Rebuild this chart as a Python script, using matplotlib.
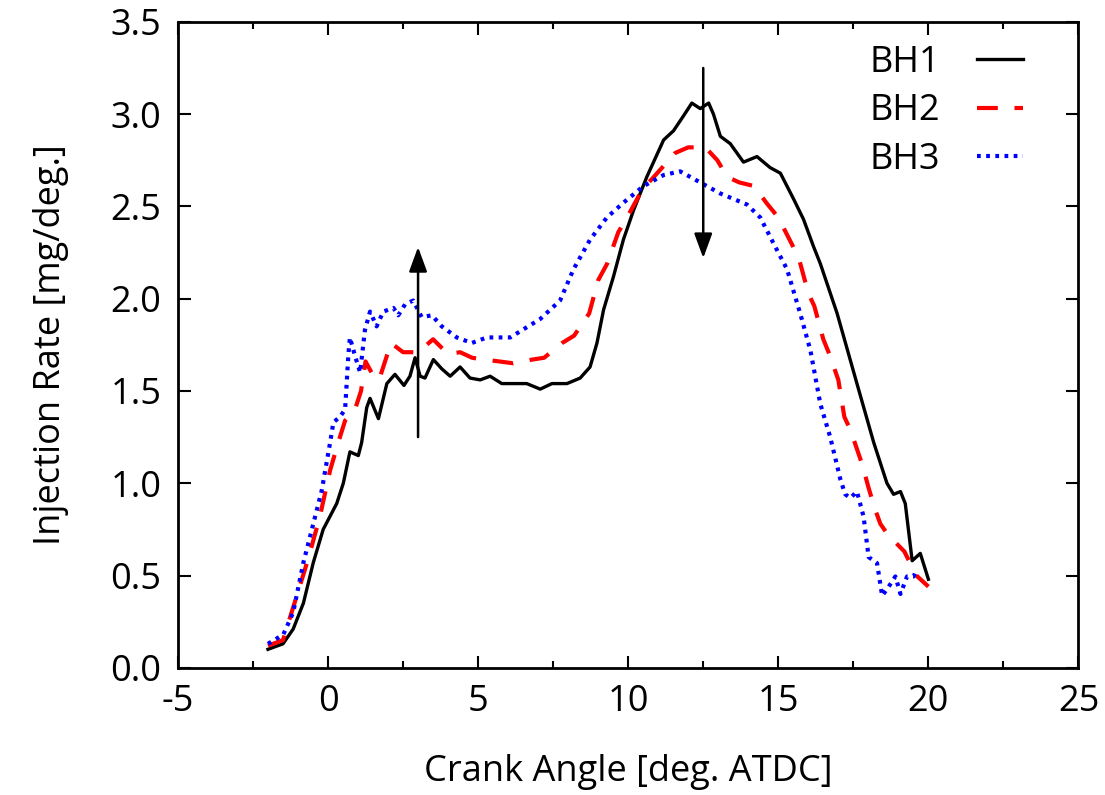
import matplotlib
matplotlib.use("Agg")
import matplotlib.pyplot as plt

plt.rcParams['font.family'] = ['Open Sans', 'DejaVu Sans']
plt.rcParams['axes.unicode_minus'] = False

# crank angle [deg. ATDC] and injection rate [mg/deg.]
bh1_x = [-2.0, -1.5, -1.16, -0.82, -0.49, -0.16, 0.29, 0.51, 0.73, 1.01, 1.12, 1.29, 1.4, 1.68,
         1.96, 2.23, 2.53, 2.73, 2.9, 3.07, 3.23, 3.51, 3.79, 4.07, 4.4, 4.73, 5.07, 5.4, 5.79,
         6.62, 7.07, 7.46, 7.96, 8.4, 8.73, 8.96, 9.18, 9.51, 9.84, 10.18, 10.62, 11.18, 11.51,
         11.84, 12.12, 12.4, 12.68, 12.84, 13.07, 13.4, 13.84, 14.29, 14.73, 15.07, 15.51, 15.84,
         16.18, 16.4, 16.96, 17.62, 18.18, 18.62, 18.84, 19.07, 19.23, 19.46, 19.73, 20.0]
bh1_y = [0.10, 0.13, 0.21, 0.35, 0.57, 0.75, 0.89, 1.0, 1.17, 1.15, 1.22, 1.41, 1.46, 1.35,
         1.54, 1.59, 1.53, 1.58, 1.68, 1.58, 1.57, 1.67, 1.62, 1.58, 1.63, 1.57, 1.56, 1.58, 1.54,
         1.54, 1.51, 1.54, 1.54, 1.57, 1.63, 1.76, 1.94, 2.12, 2.32, 2.48, 2.66, 2.86, 2.91,
         2.99, 3.06, 3.03, 3.06, 3.0, 2.88, 2.84, 2.74, 2.77, 2.71, 2.68, 2.54, 2.43,
         2.28, 2.19, 1.92, 1.54, 1.22, 1.0, 0.94, 0.955, 0.89, 0.58, 0.62, 0.48]

bh2_x = [-2.0, -1.5, -1.04, -0.66, -0.27, 0.07, 0.34, 0.57, 0.9, 1.1, 1.25, 1.45, 1.7, 2.1,
         2.5, 3.0, 3.5, 4.0, 4.4, 4.8, 5.2, 5.7, 6.17, 6.8, 7.2, 7.8, 8.2, 8.7, 9.0, 9.3, 9.67,
         9.96, 10.5, 10.8, 11.57, 12.0, 12.57, 12.97, 13.3, 13.7, 14.2, 14.6, 15.0, 15.5,
         15.7, 16.0, 16.2, 16.5, 16.7, 17.0, 17.2, 17.4, 17.8, 18.0, 18.2, 18.4, 18.7, 18.9,
         19.2, 19.6, 20.0]
bh2_y = [0.12, 0.15, 0.39, 0.59, 0.82, 1.07, 1.22, 1.34, 1.40, 1.50, 1.66, 1.60, 1.56, 1.76,
         1.71, 1.71, 1.78, 1.70, 1.71, 1.68, 1.67, 1.66, 1.65, 1.67, 1.68, 1.76, 1.80, 1.92, 2.10, 2.19, 2.36,
         2.44, 2.60, 2.65, 2.79, 2.82, 2.82, 2.75, 2.66, 2.63, 2.61, 2.52, 2.44, 2.28,
         2.21, 2.03, 1.96, 1.78, 1.70, 1.56, 1.36, 1.29, 1.10, 0.98, 0.87, 0.78, 0.71, 0.68,
         0.63, 0.50, 0.44]

bh3_x = [-2.0, -1.49, -1.16, -0.82, -0.49, -0.21, 0.07, 0.18, 0.4, 0.57, 0.68, 0.73, 0.9,
         1.07, 1.23, 1.4, 1.62, 1.84, 2.18, 2.34, 2.57, 2.84, 3.12, 3.46, 3.79, 4.29, 4.79,
         5.29, 6.07, 7.07, 7.73, 8.18, 8.73, 9.29, 9.84, 10.51, 11.18, 11.73, 12.4, 13.07,
         13.96, 14.4, 14.84, 15.29, 15.73, 16.07, 16.4, 16.73, 17.07, 17.23, 17.4, 17.62,
         17.84, 18.01, 18.29, 18.46, 18.68, 18.9, 19.07, 19.29, 19.51, 19.6]
bh3_y = [0.13, 0.18, 0.30, 0.57, 0.78, 0.96, 1.22, 1.33, 1.36, 1.40, 1.70, 1.79, 1.69,
         1.60, 1.83, 1.93, 1.85, 1.93, 1.95, 1.91, 1.97, 1.99, 1.90, 1.91, 1.85, 1.79, 1.76,
         1.79, 1.79, 1.89, 1.99, 2.16, 2.32, 2.44, 2.52, 2.61, 2.67, 2.69, 2.63, 2.57,
         2.51, 2.44, 2.30, 2.16, 1.92, 1.72, 1.43, 1.25, 1.02, 0.94, 0.92, 0.955,
         0.82, 0.60, 0.567, 0.39, 0.44, 0.495, 0.40, 0.495, 0.495, 0.53]

# trend arrows: (x, y_start, y_end)
arrow_up = (3.0, 1.25, 2.28)
arrow_down = (12.5, 3.25, 2.22)

fig = plt.figure(figsize=(11.05, 7.95), dpi=100)
ax = fig.add_axes([0.161, 0.16, 0.815, 0.8125])

ax.plot(bh1_x, bh1_y, color='black', lw=2.4, ls='-', label='BH1')
ax.plot(bh2_x, bh2_y, color='red', lw=3, ls=(0, (5, 4)), label='BH2')
ax.plot(bh3_x, bh3_y, color='blue', lw=3, ls=(0, (0.9, 1.3)), label='BH3')

for xa, y0, y1 in (arrow_up, arrow_down):
    ax.annotate('', xy=(xa, y1), xytext=(xa, y0),
                arrowprops=dict(arrowstyle='-|>,head_length=0.6,head_width=0.22',
                                color='black', lw=1.8,
                                mutation_scale=25, shrinkA=0, shrinkB=0))

ax.set_xlim(-5, 25)
ax.set_ylim(0, 3.5)
ax.set_xticks(range(-5, 26, 5))
ax.set_xticks([-2.5, 2.5, 7.5, 12.5, 17.5, 22.5], minor=True)
ax.set_yticks([0, 0.5, 1, 1.5, 2, 2.5, 3, 3.5])
ax.set_yticklabels(['0.0', '0.5', '1.0', '1.5', '2.0', '2.5', '3.0', '3.5'])
ax.tick_params(which='both', direction='in', top=True, right=True, labelsize=26, width=1.5)
ax.tick_params(which='major', length=9, pad=12)
ax.tick_params(which='minor', length=5)
for s in ax.spines.values():
    s.set_linewidth(2)

ax.set_xlabel('Crank Angle [deg. ATDC]', fontsize=26, labelpad=24)
ax.set_ylabel('Injection Rate [mg/deg.]', fontsize=26, labelpad=30)

ax.legend(loc='upper right', bbox_to_anchor=(0.975, 1.015), frameon=False,
          markerfirst=False, fontsize=26, handlelength=1.3, handletextpad=1.0,
          labelspacing=0.35)

fig.savefig('out.png', dpi=100)
